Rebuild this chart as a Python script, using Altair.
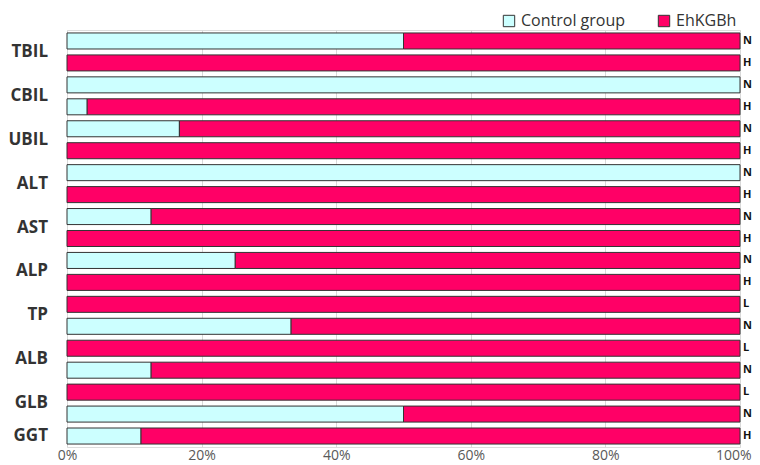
import altair as alt
import pandas as pd

# ---- data ----
row_cats = ["TBIL", "TBIL", "CBIL", "CBIL", "UBIL", "UBIL", "ALT", "ALT",
            "AST", "AST", "ALP", "ALP", "TP", "TP", "ALB", "ALB", "GLB", "GLB", "GGT"]
row_levels = ["N", "H", "N", "H", "N", "H", "N", "H", "N", "H", "N", "H",
              "L", "N", "L", "N", "L", "N", "H"]
control_pct = [50, 0, 100, 3, 16.7, 0, 100, 0, 12.5, 0, 25, 0,
               0, 33.3, 0, 12.5, 0, 50, 11]
ehkgbh_pct = [50, 100, 0, 97, 83.3, 100, 0, 100, 87.5, 100, 75, 100,
              100, 66.7, 100, 87.5, 100, 50, 89]
series = ["Control group", "EhKGBh"]
categories = ["TBIL", "CBIL", "UBIL", "ALT", "AST", "ALP", "TP", "ALB", "GLB", "GGT"]

row_ids = [f"{c}-{l}" for c, l in zip(row_cats, row_levels)]

recs = []
for rid, c, l, cv, ev in zip(row_ids, row_cats, row_levels, control_pct, ehkgbh_pct):
    recs.append({"row": rid, "cat": c, "level": l, "group": series[0], "ord": 0, "value": cv})
    recs.append({"row": rid, "cat": c, "level": l, "group": series[1], "ord": 1, "value": ev})
bars_df = pd.DataFrame(recs)

lvl_df = pd.DataFrame({"row": row_ids, "level": row_levels})

first_rows, pair_flags = [], []
for c in categories:
    idx = [i for i, rc in enumerate(row_cats) if rc == c]
    first_rows.append(row_ids[idx[0]])
    pair_flags.append(len(idx) > 1)
cat_df = pd.DataFrame({"row": first_rows, "cat": categories, "pair": pair_flags})

FONT = "Open Sans"

yscale = alt.Scale(domain=row_ids, paddingInner=0.27, paddingOuter=0.135)
y_enc = alt.Y("row:N", scale=yscale, axis=None, sort=row_ids)

bars = alt.Chart(bars_df).transform_filter("datum.value > 0").mark_bar(
    stroke="#333333", strokeWidth=1
).encode(
    x=alt.X("value:Q", stack="normalize",
            scale=alt.Scale(domain=[0, 1], nice=False),
            axis=alt.Axis(format="%", values=[0, 0.2, 0.4, 0.6, 0.8, 1.0],
                          grid=True, gridColor="#d9d9d9", domain=False,
                          ticks=False, tickSize=0, labelPadding=1, labelFlush=False,
                          labelAlign={"condition": {"test": "datum.value >= 1", "value": "right"},
                                      "value": "center"},
                          labelOffset={"condition": {"test": "datum.value >= 1", "value": 11},
                                       "value": 0},
                          labelFont=FONT, labelFontSize=14, labelColor="#595959",
                          title=None)),
    y=y_enc,
    color=alt.Color("group:N",
                    scale=alt.Scale(domain=series, range=["#CCFFFF", "#FF0066"]),
                    legend=alt.Legend(title=None, orient="none", legendX=434, legendY=-17,
                                      direction="horizontal", symbolType="square",
                                      symbolSize=130, symbolStrokeColor="#333333",
                                      symbolStrokeWidth=1, labelFont=FONT,
                                      labelFontSize=16, labelColor="#333333",
                                      columnPadding=30, symbolOffset=0)),
    order=alt.Order("ord:Q"),
)

right_labels = alt.Chart(lvl_df).mark_text(
    align="left", baseline="middle", dx=3, fontSize=11, fontWeight="bold",
    font=FONT, color="#111111"
).encode(
    x=alt.datum(1),
    y=y_enc,
    text="level:N",
)

pair_labels = alt.Chart(cat_df).transform_filter("datum.pair").mark_text(
    align="right", baseline="middle", dx=-19, dy=11, fontSize=17, fontWeight="bold",
    font=FONT, color="#333333"
).encode(x=alt.datum(0), y=y_enc, text="cat:N")

single_labels = alt.Chart(cat_df).transform_filter("!datum.pair").mark_text(
    align="right", baseline="middle", dx=-19, fontSize=17, fontWeight="bold",
    font=FONT, color="#333333"
).encode(x=alt.datum(0), y=y_enc, text="cat:N")

chart = alt.layer(bars, right_labels, pair_labels, single_labels).properties(
    width=673, height=417,
    autosize=alt.AutoSizeParams(type="none"),
    padding={"left": 59, "top": 22, "right": 12, "bottom": 18},
).configure_view(stroke=None).configure(background="white")

chart.save("out.html", embed_options={"renderer": "svg", "actions": False})
